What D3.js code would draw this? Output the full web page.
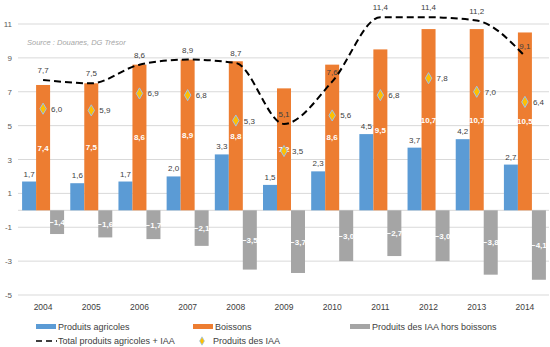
<!DOCTYPE html>
<html>
<head>
<meta charset="utf-8">
<script src="https://cdn.jsdelivr.net/npm/d3@7"></script>
<style>
  body { margin: 0; background: #fff; }
  svg { display: block; font-family: "Liberation Sans", Arial, sans-serif; }
</style>
</head>
<body>
<svg id="chart" width="550" height="347"></svg>
<script>
var years = ['2004', '2005', '2006', '2007', '2008', '2009', '2010', '2011', '2012', '2013', '2014'];
var agricoles = [1.7, 1.6, 1.7, 2.0, 3.3, 1.5, 2.3, 4.5, 3.7, 4.2, 2.7];
var boissons = [7.4, 7.5, 8.6, 8.9, 8.8, 7.2, 8.6, 9.5, 10.7, 10.7, 10.5];
var horsBoissons = [-1.4, -1.6, -1.7, -2.1, -3.5, -3.7, -3.0, -2.7, -3.0, -3.8, -4.1];
var total = [7.7, 7.5, 8.6, 8.9, 8.7, 5.1, 7.6, 11.4, 11.4, 11.2, 9.1];
var produitsIAA = [6.0, 5.9, 6.9, 6.8, 5.3, 3.5, 5.6, 6.8, 7.8, 7.0, 6.4];
var yTicks = [-5, -3, -1, 1, 3, 5, 7, 9, 11];

var fmt = function(v) { return d3.format('.1f')(v).replace('.', ','); };

var svg = d3.select('#chart');

var x = d3.scaleBand().domain(years).range([19, 549]);
var y = d3.scaleLinear().domain([-5, 11]).range([295, 24]);
var barW = 14;
var groupOff = (x.bandwidth() - 3 * barW) / 2;

// gridlines and y labels
svg.append('g')
  .selectAll('line')
  .data(yTicks.concat([0]))
  .enter().append('line')
  .attr('x1', 18).attr('x2', 549)
  .attr('y1', function(d) { return y(d); })
  .attr('y2', function(d) { return y(d); })
  .attr('stroke', '#d9d9d9')
  .attr('stroke-width', 1);

svg.append('g')
  .selectAll('text')
  .data(yTicks)
  .enter().append('text')
  .attr('x', 12)
  .attr('y', function(d) { return y(d) + 3; })
  .attr('text-anchor', 'end')
  .attr('font-size', 8)
  .attr('fill', '#595959')
  .text(function(d) { return d; });

// year labels
svg.append('g')
  .selectAll('text')
  .data(years)
  .enter().append('text')
  .attr('x', function(d) { return x(d) + x.bandwidth() / 2; })
  .attr('y', 310)
  .attr('text-anchor', 'middle')
  .attr('font-size', 8.5)
  .attr('fill', '#404040')
  .text(function(d) { return d; });

svg.append('text')
  .attr('x', 27).attr('y', 45)
  .attr('font-size', 7.5)
  .attr('font-style', 'italic')
  .attr('fill', '#a6a6a6')
  .text('Source : Douanes, DG Trésor');

var series = [
  { values: agricoles, color: '#5b9bd5' },
  { values: boissons, color: '#ed7d31' },
  { values: horsBoissons, color: '#a5a5a5' }
];

series.forEach(function(s, k) {
  svg.append('g')
    .selectAll('rect')
    .data(s.values)
    .enter().append('rect')
    .attr('x', function(d, i) { return x(years[i]) + groupOff + k * barW; })
    .attr('y', function(d) { return y(Math.max(d, 0)); })
    .attr('width', barW)
    .attr('height', function(d) { return Math.abs(y(d) - y(0)); })
    .attr('fill', s.color);
});

// value labels on bars
svg.append('g')
  .selectAll('text')
  .data(agricoles)
  .enter().append('text')
  .attr('x', function(d, i) { return x(years[i]) + groupOff + barW / 2; })
  .attr('y', function(d) { return y(d) - 5; })
  .attr('text-anchor', 'middle')
  .attr('font-size', 8)
  .attr('fill', '#404040')
  .text(fmt);

[[boissons, 1], [horsBoissons, 2]].forEach(function(p) {
  svg.append('g')
    .selectAll('text')
    .data(p[0])
    .enter().append('text')
    .attr('x', function(d, i) { return x(years[i]) + groupOff + p[1] * barW + barW / 2; })
    .attr('y', function(d) { return (y(d) + y(0)) / 2 + 3; })
    .attr('text-anchor', 'middle')
    .attr('font-size', 8)
    .attr('font-weight', 'bold')
    .attr('fill', '#fff')
    .text(fmt);
});

// total line
var cx = function(i) { return x(years[i]) + x.bandwidth() / 2; };
var line = d3.line()
  .x(function(d, i) { return cx(i); })
  .y(function(d) { return y(d); })
  .curve(d3.curveMonotoneX);

svg.append('path')
  .datum(total)
  .attr('d', line)
  .attr('fill', 'none')
  .attr('stroke', '#000')
  .attr('stroke-width', 2)
  .attr('stroke-dasharray', '7,4');

svg.append('g')
  .selectAll('text')
  .data(total)
  .enter().append('text')
  .attr('x', function(d, i) { return cx(i); })
  .attr('y', function(d) { return y(d) - 7; })
  .attr('text-anchor', 'middle')
  .attr('font-size', 8)
  .attr('fill', '#404040')
  .text(fmt);

// IAA markers
var diamond = d3.symbol().type(d3.symbolDiamond).size(36);
svg.append('g')
  .selectAll('path')
  .data(produitsIAA)
  .enter().append('path')
  .attr('d', diamond)
  .attr('transform', function(d, i) { return 'translate(' + cx(i) + ',' + y(d) + ')'; })
  .attr('fill', '#ffc000')
  .attr('stroke', '#9dc3e6')
  .attr('stroke-width', 1);

svg.append('g')
  .selectAll('text')
  .data(produitsIAA)
  .enter().append('text')
  .attr('x', function(d, i) { return cx(i) + 8; })
  .attr('y', function(d) { return y(d) + 3; })
  .attr('font-size', 8)
  .attr('fill', '#404040')
  .text(fmt);

// legend
var legend = svg.append('g').attr('font-size', 9).attr('fill', '#404040');
var rows = [
  { label: 'Produits agricoles', color: '#5b9bd5', lx: 36, y: 327 },
  { label: 'Boissons', color: '#ed7d31', lx: 193, y: 327 },
  { label: 'Produits des IAA hors boissons', color: '#a5a5a5', lx: 350, y: 327 }
];
rows.forEach(function(r) {
  legend.append('rect')
    .attr('x', r.lx).attr('y', r.y - 3)
    .attr('width', 20).attr('height', 5)
    .attr('fill', r.color);
  legend.append('text')
    .attr('x', r.lx + 22).attr('y', r.y + 3)
    .attr('fill', '#404040')
    .text(r.label);
});
legend.append('line')
  .attr('x1', 36).attr('x2', 57)
  .attr('y1', 341).attr('y2', 341)
  .attr('stroke', '#000')
  .attr('stroke-width', 1.5)
  .attr('stroke-dasharray', '6,4');
legend.append('text')
  .attr('x', 58).attr('y', 344)
  .text('Total produits agricoles + IAA');
legend.append('path')
  .attr('d', d3.symbol().type(d3.symbolDiamond).size(20))
  .attr('transform', 'translate(202,341)')
  .attr('fill', '#ffc000')
  .attr('stroke', '#9dc3e6')
  .attr('stroke-width', 0.8);
legend.append('text')
  .attr('x', 213).attr('y', 344)
  .text('Produits des IAA');
</script>
</body>
</html>
